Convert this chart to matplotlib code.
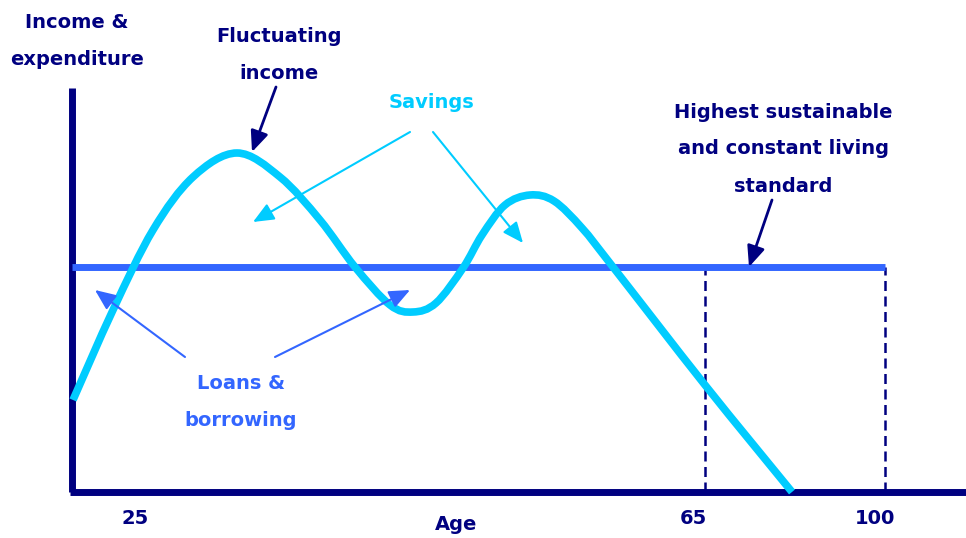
import matplotlib.pyplot as plt
from matplotlib.path import Path
from matplotlib.patches import PathPatch

# Colores del diagrama
NAVY = '#000080'
CYAN = '#00CCFF'
BLUE = '#3366FF'

# Curva de ingresos fluctuantes (posicion horizontal, nivel de ingreso)
curve_x = [1, 41, 81, 121, 165, 208, 248, 283, 318, 341, 364, 391, 410,
           433, 458, 482, 510, 541, 633, 720]
curve_y = [92, 182, 262, 315, 339, 315, 272, 225, 187, 180, 189, 224, 257,
           287, 297, 291, 264, 225, 107, 0]

# Nivel de vida constante y edades marcadas
nivel_constante = 225
nivel_inicio, nivel_fin = 0, 813
edades_pos = [63, 621, 803]
edades_txt = ['25', '65', '100']
verticales = [633, 813]

fig = plt.figure(figsize=(9.66, 5.38), dpi=100)
ax = fig.add_axes([0, 0, 1, 1])
ax.set_xlim(-72, 894)
ax.set_ylim(-46, 492)
ax.axis('off')

# Ejes
ax.plot([0, 0], [0, 404], color=NAVY, lw=5, solid_capstyle='butt', zorder=2)
ax.plot([-2, 894], [0, 0], color=NAVY, lw=5, solid_capstyle='butt', zorder=2)

# Lineas verticales discontinuas
for xv in verticales:
    ax.plot([xv, xv], [0, nivel_constante], color=NAVY, lw=1.8,
            dashes=(4, 2.2), zorder=1)

# Nivel de vida constante
ax.plot([nivel_inicio, nivel_fin], [nivel_constante, nivel_constante],
        color=BLUE, lw=5, solid_capstyle='butt', zorder=3)

# Ingreso fluctuante: curva suave (Bezier) que pasa por los puntos leidos
pts = list(zip(curve_x, curve_y))
verts = [pts[0]]
codes = [Path.MOVETO]
for i in range(len(pts) - 1):
    p0 = pts[max(i - 1, 0)]
    p1 = pts[i]
    p2 = pts[i + 1]
    p3 = pts[min(i + 2, len(pts) - 1)]
    c1 = (p1[0] + (p2[0] - p0[0]) / 6, p1[1] + (p2[1] - p0[1]) / 6)
    c2 = (p2[0] - (p3[0] - p1[0]) / 6, p2[1] - (p3[1] - p1[1]) / 6)
    verts += [c1, c2, p2]
    codes += [Path.CURVE4] * 3
ax.add_patch(PathPatch(Path(verts, codes), fill=False, edgecolor=CYAN,
                       lw=5.5, capstyle='butt', joinstyle='round', zorder=4))

fuente = dict(fontsize=14, fontweight='bold', ha='center', va='center',
              linespacing=2.2)

ax.text(5, 451, 'Income &\nexpenditure', color=NAVY, **fuente)
ax.text(207, 437, 'Fluctuating\nincome', color=NAVY, **fuente)
ax.text(359, 389, 'Savings', color=CYAN, **fuente)
ax.text(711, 343, 'Highest sustainable\nand constant living\nstandard',
        color=NAVY, **fuente)
ax.text(169, 90, 'Loans &\nborrowing', color=BLUE, **fuente)

for pos, txt in zip(edades_pos, edades_txt):
    ax.text(pos, -27, txt, color=NAVY, **fuente)
ax.text(384, -33, 'Age', color=NAVY, **fuente)


def flecha(inicio, fin, color, lw=1.5):
    ax.annotate('', xy=fin, xytext=inicio,
                arrowprops=dict(arrowstyle='-|>,head_length=0.7,head_width=0.3',
                                color=color, lw=lw, shrinkA=0, shrinkB=0,
                                mutation_scale=18), zorder=5)


flecha((204, 405), (180, 340), NAVY, lw=2)
flecha((338, 360), (181, 270), CYAN)
flecha((361, 360), (451, 249), CYAN)
flecha((113, 135), (23, 202), BLUE)
flecha((203, 135), (338, 202), BLUE)
flecha((700, 292), (677, 225), NAVY, lw=2)

plt.savefig('out.png', dpi=100)
